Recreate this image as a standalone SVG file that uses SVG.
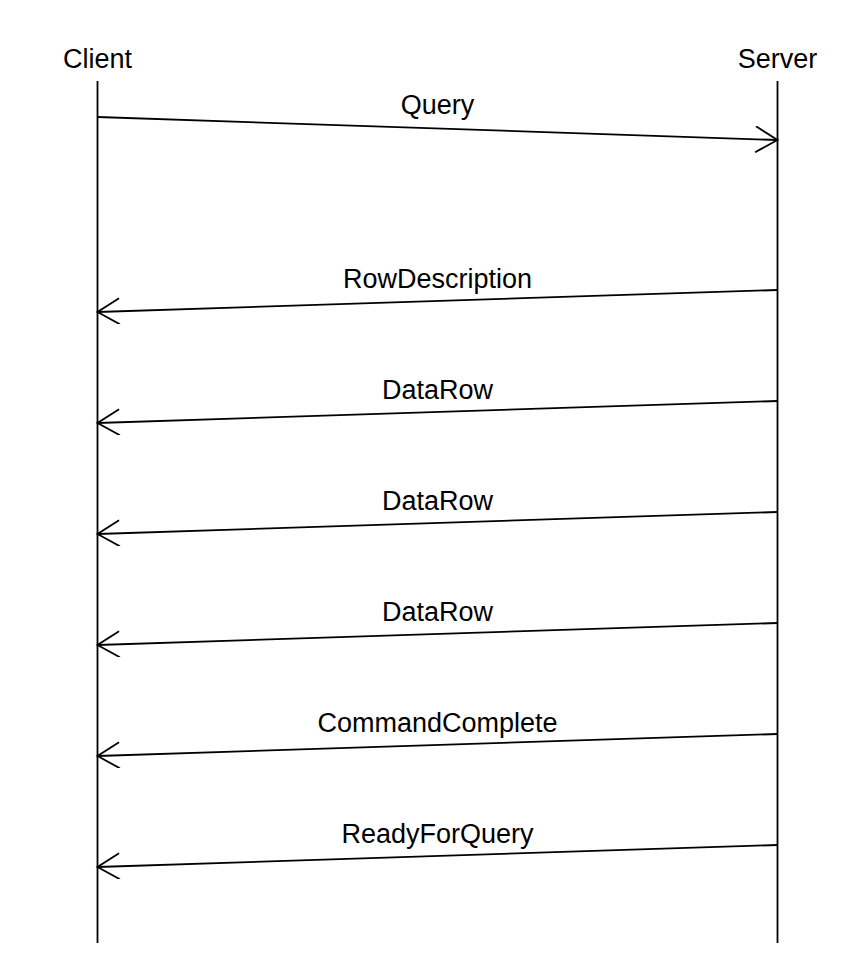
<svg xmlns="http://www.w3.org/2000/svg" width="860" height="970" viewBox="0 0 860 970">
<style>
.t{font-family:"Liberation Sans",Arial,Helvetica,sans-serif;font-size:27px;fill:#000;text-anchor:middle}
.l{stroke:#000;stroke-width:1.8;fill:none}
</style>
<defs>
<marker id="ah" markerUnits="userSpaceOnUse" markerWidth="30" markerHeight="30" refX="23" refY="13" orient="auto">
<path d="M1,0 L23,13 L1,26" fill="none" stroke="#000" stroke-width="1.8"/>
</marker>
</defs>
<rect width="860" height="970" fill="#fff"/>
<g id="client">
<text class="t" x="97.5" y="68">Client</text>
<line class="l" x1="97.5" y1="81" x2="97.5" y2="943"/>
</g>
<g id="server">
<text class="t" x="777.5" y="68">Server</text>
<line class="l" x1="777.5" y1="81" x2="777.5" y2="943"/>
</g>
<g id="connectors">
<line class="l" x1="97.5" y1="117" x2="777.5" y2="140" marker-end="url(#ah)"/>
<line class="l" x1="777.5" y1="290" x2="97.5" y2="312" marker-end="url(#ah)"/>
<line class="l" x1="777.5" y1="401" x2="97.5" y2="423" marker-end="url(#ah)"/>
<line class="l" x1="777.5" y1="512" x2="97.5" y2="534" marker-end="url(#ah)"/>
<line class="l" x1="777.5" y1="623" x2="97.5" y2="645" marker-end="url(#ah)"/>
<line class="l" x1="777.5" y1="734" x2="97.5" y2="756" marker-end="url(#ah)"/>
<line class="l" x1="777.5" y1="845" x2="97.5" y2="867" marker-end="url(#ah)"/>
</g>
<g id="labels">
<text class="t" x="437.5" y="114">Query</text>
<text class="t" x="437.5" y="288">RowDescription</text>
<text class="t" x="437.5" y="399">DataRow</text>
<text class="t" x="437.5" y="510">DataRow</text>
<text class="t" x="437.5" y="621">DataRow</text>
<text class="t" x="437.5" y="732">CommandComplete</text>
<text class="t" x="437.5" y="843">ReadyForQuery</text>
</g>
</svg>
